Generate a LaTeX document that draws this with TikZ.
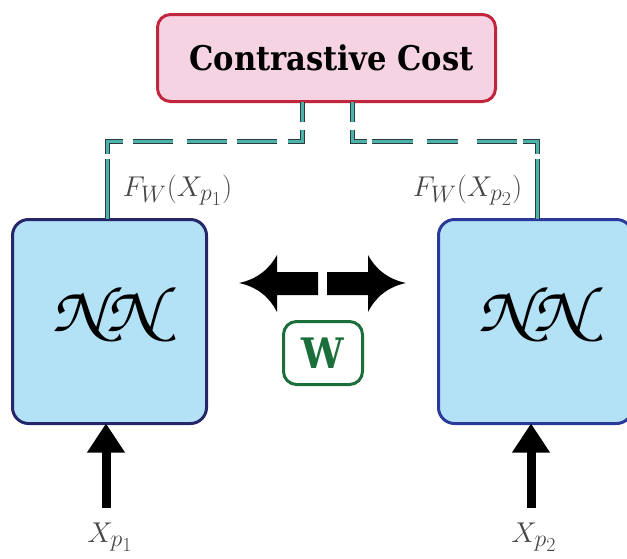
\documentclass[tikz,border=0pt]{standalone}
\usepackage[T1]{fontenc}
\usepackage{fontspec}
\usetikzlibrary{arrows.meta}
\newfontfamily\slab{DejaVu Serif}[FakeStretch=0.9]
\newcommand{\chanc}{\usefont{T1}{pzc}{mb}{it}}
\definecolor{ccfill}{RGB}{245,211,227}
\definecolor{ccdraw}{RGB}{193,38,60}
\definecolor{nnfill}{RGB}{179,225,246}
\definecolor{nnleft}{RGB}{38,38,107}
\definecolor{nnright}{RGB}{42,58,154}
\definecolor{teal2}{RGB}{77,178,170}
\definecolor{darkline}{RGB}{40,60,60}
\definecolor{wgreen}{RGB}{28,110,58}
\definecolor{labgray}{RGB}{70,70,70}
\tikzset{
  costbox/.style={draw=ccdraw, fill=ccfill, line width=3pt, rounded corners=13pt,
    minimum width=338pt, minimum height=87pt, inner sep=0pt, outer sep=0pt},
  nnbox/.style={fill=nnfill, line width=3pt, rounded corners=16pt,
    minimum width=194pt, minimum height=204pt, inner sep=0pt, outer sep=0pt},
  nntext/.style={inner sep=0pt, font=\fontsize{62}{70}\selectfont\chanc},
  wbox/.style={draw=wgreen, line width=3pt, rounded corners=13pt,
    minimum width=79pt, minimum height=63pt, inner sep=0pt, outer sep=0pt},
  tealconn/.style={draw=darkline, double=teal2, double distance=3pt, line width=1pt},
  inarrow/.style={line width=9pt, -{Triangle[width=36pt,length=29pt]}},
  mathlab/.style={text=labgray, font=\fontsize{24.88}{30}\selectfont, inner sep=0pt},
}
\begin{document}
\begin{tikzpicture}[x=1pt,y=-1pt]
\useasboundingbox (0,0) rectangle (627,558);
\clip (0,0) rectangle (627,558);
% boxes
\node[costbox] (cc) at (326.5,58) {\hspace*{10pt}\fontsize{34}{40}\selectfont\slab\bfseries Contrastive Cost};
\node[nnbox, draw=nnleft] (lnn) at (109.5,321.5) {};
\node[nnbox, draw=nnright] (rnn) at (535.5,321.5) {};
\node[nntext] (lnnt) at (106,314) {\scalebox{1.25}[1.04]{NN}};
\node[nntext] (rnnt) at (532,314) {\scalebox{1.25}[1.04]{NN}};
\node[wbox] (w) at (323,353) {\fontsize{42}{48}\selectfont\slab\bfseries\color{wgreen}\raisebox{-2pt}{W}};
% connectors
\draw[tealconn, dash pattern=on 20pt off 8pt on 26pt off 11pt on 40pt off 10pt on 40pt off 14pt on 40pt off 10pt on 28pt off 5pt on 60pt]
  ([xshift=-24.5pt]cc.south) -- ++(0,40) -| ([xshift=-2.5pt]lnn.north);
\draw[tealconn, dash pattern=on 20pt off 8pt on 27pt off 5pt on 41pt off 14pt on 31pt off 19pt on 40pt off 6pt on 26pt off 5pt on 60pt]
  ([xshift=25.5pt]cc.south) -- ++(0,40) -| ([xshift=1.5pt]rnn.north);
% labels
\node[mathlab] (fl) at (177.5,190) {\scalebox{1.15}{$F_W(X_{p_1})$}};
\node[mathlab] (fr) at (467.5,190) {\scalebox{1.15}{$F_W(X_{p_2})$}};
\node[mathlab] (xl) at (110,537) {\scalebox{1.15}{$X_{p_1}$}};
\node[mathlab] (xr) at (534,537) {\scalebox{1.15}{$X_{p_2}$}};
% input arrows
\coordinate (al) at (106,508);
\coordinate (ar) at (531,508);
\draw[inarrow] (al) -- (al |- lnn.south);
\draw[inarrow] (ar) -- (ar |- rnn.south);
% weight-sharing arrows
\fill (239,283) .. controls (258,279) and (270,268) .. (277,255) -- (277,272) -- (318,272)
  -- (318,295) -- (277,295) -- (277,312) .. controls (270,298) and (258,287) .. cycle;
\fill (406,283) .. controls (387,279) and (375,268) .. (368,255) -- (368,272) -- (327,272)
  -- (327,295) -- (368,295) -- (368,312) .. controls (375,298) and (387,287) .. cycle;
\end{tikzpicture}
\end{document}
